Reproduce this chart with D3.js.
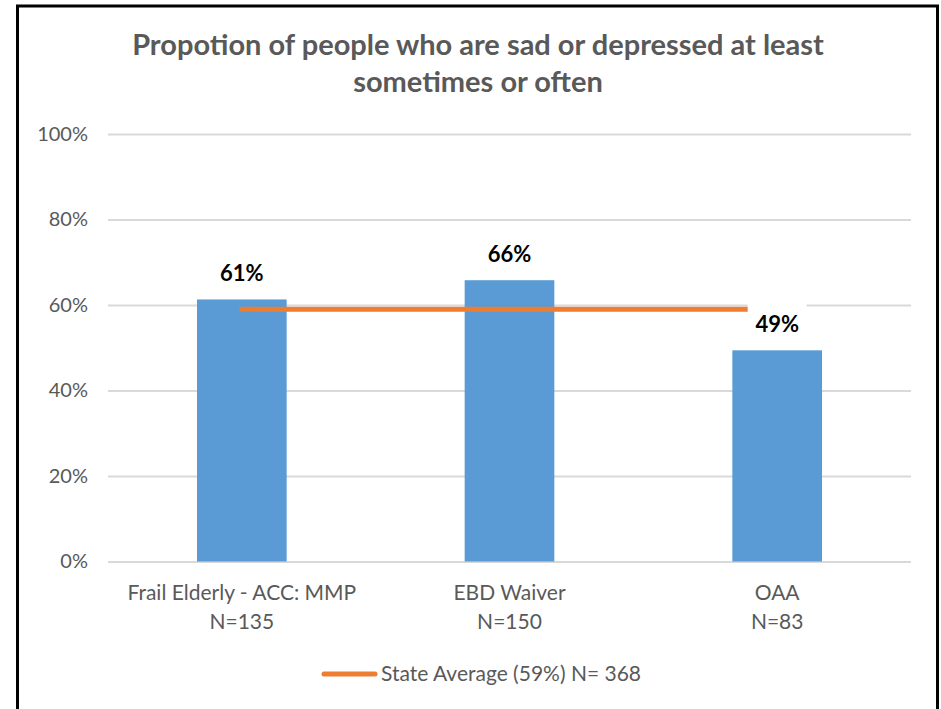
<!DOCTYPE html>
<html>
<head>
<meta charset="utf-8">
<script src="https://cdn.jsdelivr.net/npm/d3@7"></script>
<style>
  html, body { margin: 0; padding: 0; background: #fff; }
  svg { display: block; font-family: Lato, "Noto Sans", sans-serif; }
</style>
</head>
<body>
<svg id="chart" width="941" height="709"></svg>
<script>
const titleLines = ["Propotion of people who are sad or depressed at least", "sometimes or often"];
const categories = ["Frail Elderly - ACC: MMP", "EBD Waiver", "OAA"];
const sampleSizes = ["N=135", "N=150", "N=83"];
const values = [0.613, 0.658, 0.494];
const stateAverage = 0.59;
const legendLabel = "State Average (59%) N= 368";
const yTicks = [0, 0.2, 0.4, 0.6, 0.8, 1.0];

const svg = d3.select("svg#chart");
const width = +svg.attr("width");
const height = +svg.attr("height");
const plot = { left: 108, right: 911, top: 134, bottom: 561.5 };

const grey = "#595959";
const blue = "#5b9bd5";
const orange = "#ed7d31";

// outer frame (bottom edge runs off the picture)
svg.append("rect")
	.attr("x", 17.5)
	.attr("y", 6)
	.attr("width", 920)
	.attr("height", height + 20)
	.attr("fill", "#fff")
	.attr("stroke", "#000")
	.attr("stroke-width", 3);

const x = d3.scaleBand().domain(categories).range([plot.left, plot.right]).padding(0);
const y = d3.scaleLinear().domain([0, 1]).range([plot.bottom, plot.top]);
const barWidth = x.bandwidth() * 0.335;
const cx = (c) => x(c) + x.bandwidth() / 2;

// title
svg.append("text")
	.attr("x", 478)
	.attr("y", 55)
	.attr("text-anchor", "middle")
	.attr("fill", grey)
	.style("font-size", "29px")
	.style("font-weight", "bold")
	.selectAll("tspan")
	.data(titleLines)
	.enter()
	.append("tspan")
	.attr("x", 478)
	.attr("dy", (d, i) => (i === 0 ? 0 : 37))
	.text((d) => d);

// gridlines + y labels
const yAxis = d3.axisLeft(y)
	.tickValues(yTicks)
	.tickFormat(d3.format(".0%"))
	.tickSize(-(plot.right - plot.left))
	.tickPadding(20);
const yG = svg.append("g")
	.attr("transform", `translate(${plot.left},0)`)
	.call(yAxis);
yG.select(".domain").remove();
yG.selectAll(".tick line").attr("stroke", "#d9d9d9").attr("stroke-width", 2);
yG.selectAll(".tick text")
	.attr("fill", grey)
	.style("font-size", "20px")
	.style("font-family", "Lato, 'Noto Sans', sans-serif");

// bars
svg.append("g")
	.selectAll("rect")
	.data(values)
	.enter()
	.append("rect")
	.attr("x", (d, i) => cx(categories[i]) - barWidth / 2)
	.attr("y", (d) => y(d))
	.attr("width", barWidth)
	.attr("height", (d) => y(0) - y(d))
	.attr("fill", blue);

// state average line
const line = d3.line()
	.x((d) => cx(d))
	.y(() => y(stateAverage));
svg.append("path")
	.datum(categories)
	.attr("d", line)
	.attr("fill", "none")
	.attr("stroke", orange)
	.attr("stroke-width", 5)
	.attr("stroke-linecap", "round");

// data labels (white boxes, drawn over the line)
const labels = svg.append("g")
	.selectAll("g")
	.data(values)
	.enter()
	.append("g")
	.attr("transform", (d, i) => `translate(${cx(categories[i])},${y(d) - 18})`);
labels.append("rect")
	.attr("x", -29.5)
	.attr("y", -30)
	.attr("width", 59)
	.attr("height", 37)
	.attr("fill", "#fff");
labels.append("text")
	.attr("text-anchor", "middle")
	.attr("fill", "#000")
	.style("font-size", "22px")
	.style("font-weight", "bold")
	.text((d) => d3.format(".0%")(d));

// category labels
const catG = svg.append("g")
	.selectAll("text")
	.data(categories)
	.enter()
	.append("text")
	.attr("text-anchor", "middle")
	.attr("fill", grey)
	.style("font-size", "21px");
catG.append("tspan")
	.attr("x", (d) => cx(d))
	.attr("y", 600)
	.text((d) => d);
catG.append("tspan")
	.attr("x", (d) => cx(d))
	.attr("y", 629)
	.text((d, i) => sampleSizes[i]);

// legend
const legend = svg.append("g").attr("transform", "translate(324,674)");
legend.append("line")
	.attr("x1", 0)
	.attr("x2", 51)
	.attr("stroke", orange)
	.attr("stroke-width", 5)
	.attr("stroke-linecap", "round");
legend.append("text")
	.attr("x", 57)
	.attr("y", 7)
	.attr("fill", grey)
	.style("font-size", "21px")
	.text(legendLabel);
</script>
</body>
</html>
